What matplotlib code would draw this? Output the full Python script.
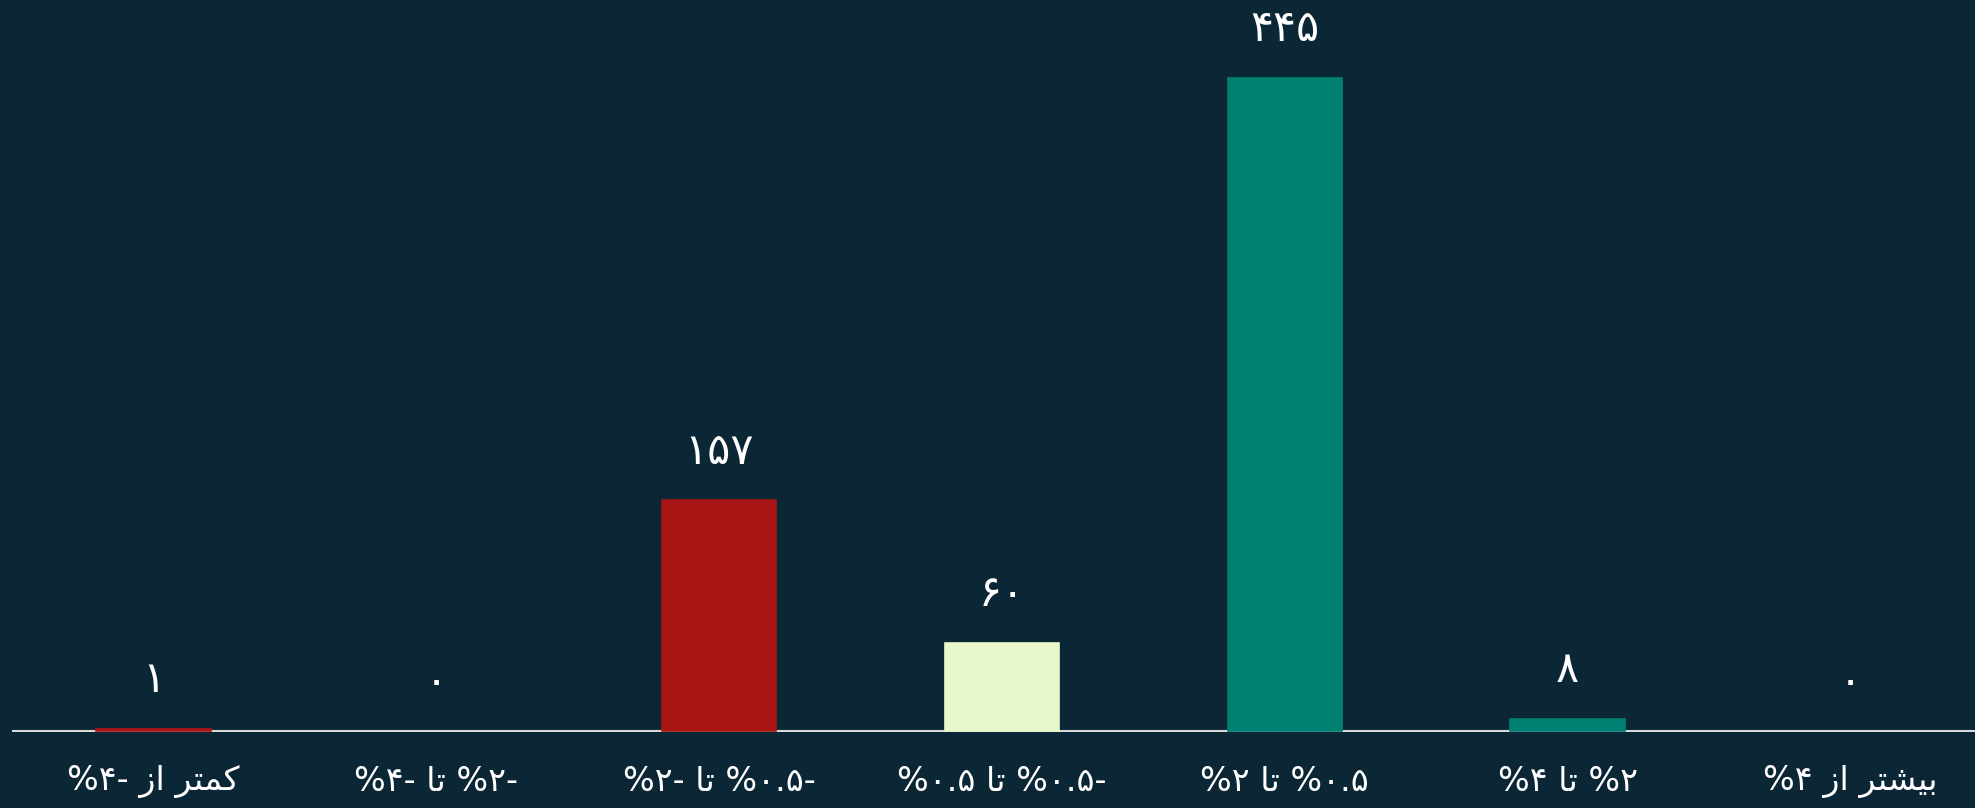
import matplotlib
matplotlib.use('Agg')
import matplotlib.pyplot as plt

# Persian letters in presentation forms, written in visual (left-to-right) order
TA = '\uFE8E\uFE97'                       # تا
AZ = '\uFEAF\uFE8D'                       # از
KAMTAR = '\uFEAE\uFE98\uFEE4\uFEDB'       # کمتر
BISHTAR = '\uFEAE\uFE98\uFEB8\uFEF4\uFE91'  # بیشتر

categories = [
    '%۴- ' + AZ + ' ' + KAMTAR,
    '%۴- ' + TA + ' %۲-',
    '%۲- ' + TA + ' %۰.۵-',
    '%۰.۵ ' + TA + ' %۰.۵-',
    '%۲ ' + TA + ' %۰.۵',
    '%۴ ' + TA + ' %۲',
    '%۴ ' + AZ + ' ' + BISHTAR,
]
values = [1, 0, 157, 60, 445, 8, 0]
value_labels = ['۱', '۰', '۱۵۷', '۶۰', '۴۴۵', '۸', '۰']
colors = ['#b01515', '#a91414', '#a91414', '#e8f8cb', '#008072', '#008072', '#008072']

bg = '#0b2736'
plt.rcParams['font.family'] = ['DejaVu Sans']

fig = plt.figure(figsize=(19.75, 8.08), dpi=100, facecolor=bg)
ax = fig.add_axes([12 / 1975, 1 - 732 / 808, 1 - 12 / 1975, 732 / 808])
ax.set_facecolor(bg)

x = list(range(len(values)))
edges = [c if v > 0 else 'none' for c, v in zip(colors, values)]
ax.bar(x, values, width=0.405, color=colors, edgecolor=edges, linewidth=1.2, zorder=3)
ax.axhline(0, color='#d8d8d8', linewidth=1.5, zorder=2)

for xi, v, lab in zip(x, values, value_labels):
    ax.annotate(lab, (xi, v), xytext=(0, 35), textcoords='offset points',
                ha='center', va='center', color='white', fontsize=31)

ax.set_xlim(-0.5, 6.44)
ax.set_ylim(-1, 498)
ax.set_xticks(x)
ax.set_xticklabels(categories, color='white', fontsize=24)
ax.tick_params(axis='x', length=0, pad=24)
ax.set_yticks([])
for s in ax.spines.values():
    s.set_visible(False)

fig.savefig('out.png', dpi=100, facecolor=bg)
